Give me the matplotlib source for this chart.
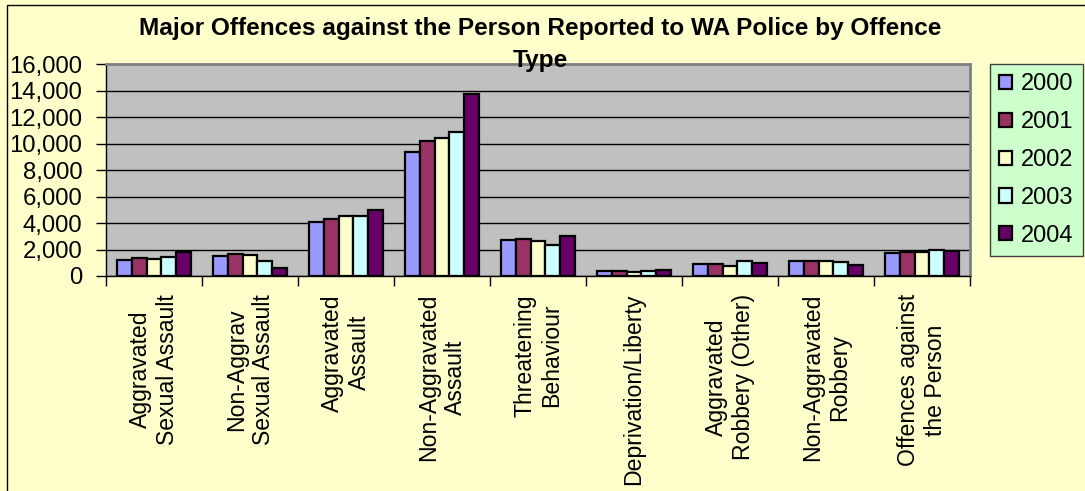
import matplotlib
matplotlib.use("Agg")
import matplotlib.pyplot as plt
import numpy as np
from matplotlib.patches import Rectangle
from matplotlib.ticker import FuncFormatter, MultipleLocator

# Datos
categorias = [
    "Aggravated\nSexual Assault",
    "Non-Aggrav\nSexual Assault",
    "Aggravated\nAssault",
    "Non-Aggravated\nAssault",
    "Threatening\nBehaviour",
    "Deprivation/Liberty",
    "Aggravated\nRobbery (Other)",
    "Non-Aggravated\nRobbery",
    "Offences against\nthe Person",
]
anios = ["2000", "2001", "2002", "2003", "2004"]
v2000 = [1230, 1510, 4050, 9360, 2690, 400, 880, 1160, 1710]
v2001 = [1360, 1640, 4300, 10210, 2820, 400, 880, 1110, 1840]
v2002 = [1260, 1580, 4530, 10390, 2620, 330, 730, 1110, 1790]
v2003 = [1430, 1110, 4550, 10870, 2360, 400, 1110, 1060, 1960]
v2004 = [1790, 600, 4980, 13710, 3020, 450, 1010, 830, 1890]
series = [v2000, v2001, v2002, v2003, v2004]
colores = ["#9999FF", "#993366", "#FFFFCC", "#CCFFFF", "#660066"]

W, H = 1085, 491
fig = plt.figure(figsize=(W / 100, H / 100), dpi=100, facecolor="#FFFFCC")
plt.rcParams["font.family"] = ["Liberation Sans", "DejaVu Sans"]

ax = fig.add_axes([106 / W, 1 - 276 / H, 864 / W, 212 / H])
ax.set_facecolor("#C0C0C0")

x = np.arange(len(categorias))
ancho = 0.156
barras = []
for i, (vals, col) in enumerate(zip(series, colores)):
    b = ax.bar(x + (i - 2) * ancho, vals, ancho, color=col, edgecolor="black",
               linewidth=1.6, label=anios[i], zorder=3)
    barras.append(b)

ax.set_xlim(-0.5, len(categorias) - 0.5)
ax.set_ylim(0, 16000)
ax.yaxis.set_major_locator(MultipleLocator(2000))
ax.yaxis.set_major_formatter(FuncFormatter(lambda v, p: f"{int(v):,}"))
ax.grid(axis="y", color="black", linewidth=1, zorder=1)

ax.set_xticks(x)
ax.set_xticklabels(categorias, rotation=90, ha="center", va="top", fontsize=16.6,
                   linespacing=1.2)
ax.set_xticks(np.arange(len(categorias) + 1) - 0.5, minor=True)
ax.tick_params(axis="x", which="major", length=0, pad=13)
ax.tick_params(axis="x", which="minor", length=7, width=1, direction="out")
ax.tick_params(axis="y", length=7, width=1, pad=10, labelsize=17.2)

for lado in ["top", "right"]:
    ax.spines[lado].set_color("#808080")
    ax.spines[lado].set_linewidth(2)
for lado in ["left", "bottom"]:
    ax.spines[lado].set_color("black")
    ax.spines[lado].set_linewidth(1)

# Titulo encima del area de trazado
fig.text(540 / W, 1 - 17 / H,
         "Major Offences against the Person Reported to WA Police by Offence\nType",
         ha="center", va="top", fontsize=17.6, fontweight="bold", linespacing=1.52,
         zorder=10)

leg = fig.legend(handles=barras, labels=anios, loc="upper left",
                 bbox_to_anchor=(990 / W, 1 - 64 / H), fontsize=17,
                 facecolor="#CCFFCC", edgecolor="#404040", fancybox=False,
                 framealpha=1, handlelength=0.55, handleheight=0.55,
                 handletextpad=0.35, labelspacing=0.67, borderpad=0.4,
                 borderaxespad=0)
leg.get_frame().set_linewidth(1)

# Borde exterior del grafico
fig.add_artist(Rectangle((7 / W, -0.1), 1.2, 1.1 - 5 / H, transform=fig.transFigure,
                         fill=False, edgecolor="black", linewidth=1))

fig.savefig("out.png", dpi=100, facecolor=fig.get_facecolor())
